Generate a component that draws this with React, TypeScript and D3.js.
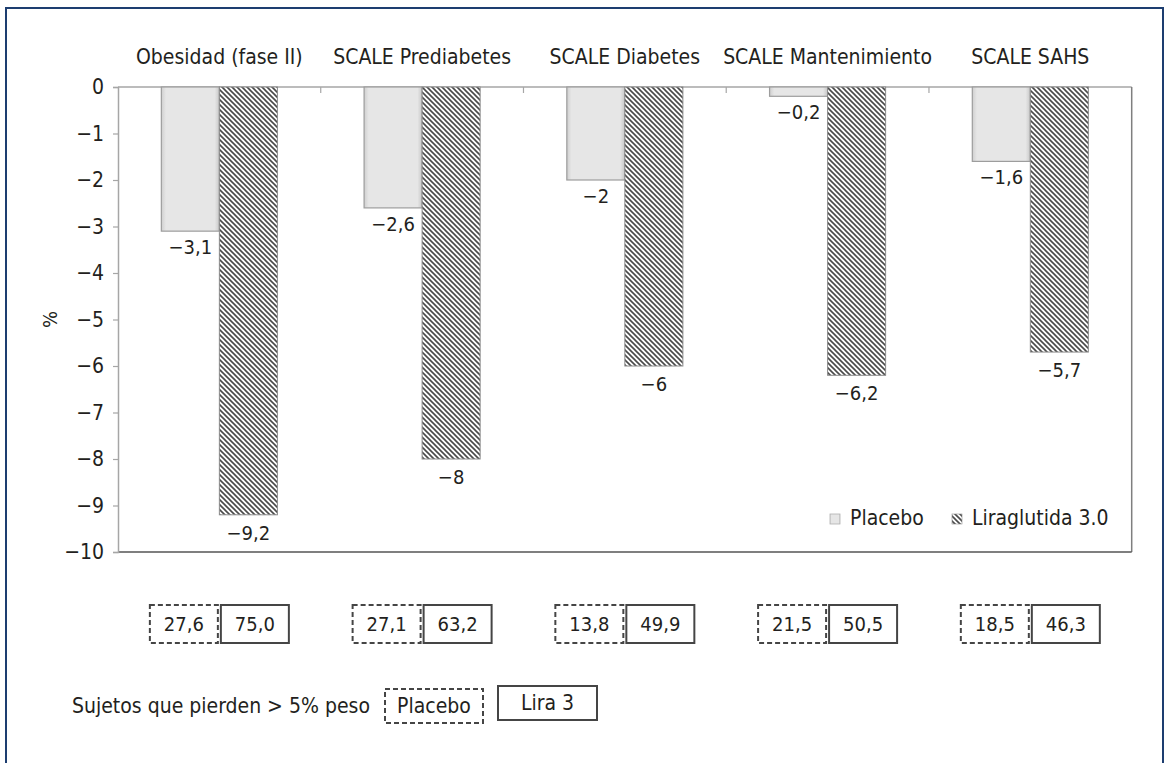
import { useEffect, useRef } from 'react';
import * as d3 from 'd3';

const categories = ['Obesidad (fase II)', 'SCALE Prediabetes', 'SCALE Diabetes', 'SCALE Mantenimiento', 'SCALE SAHS'];
const placebo = [-3.1, -2.6, -2, -0.2, -1.6];
const liraglutida = [-9.2, -8, -6, -6.2, -5.7];
const respPlacebo = ['27,6', '27,1', '13,8', '21,5', '18,5'];
const respLira = ['75,0', '63,2', '49,9', '50,5', '46,3'];
const yTicks = [0, -1, -2, -3, -4, -5, -6, -7, -8, -9, -10];

const FONT = '"Liberation Sans Narrow", "DejaVu Sans Condensed", "Open Sans", sans-serif';
const TXT = '#231f20';

const fmt = (v: number) => (v < 0 ? '\u2212' : '') + String(Math.abs(v)).replace('.', ',');

const App = () => {
  const svgRef = useRef<SVGSVGElement>(null);

  useEffect(() => {
    const svg = d3.select(svgRef.current);
    svg.selectAll('*').remove(); // start clean

    const width = 1170;
    const height = 763;
    const margin = { top: 87, right: 38.3, bottom: 211, left: 118 };

    const defs = svg.append('defs');
    const pat = defs.append('pattern')
      .attr('id', 'hatch')
      .attr('patternUnits', 'userSpaceOnUse')
      .attr('width', 5)
      .attr('height', 5);
    pat.append('rect').attr('width', 5).attr('height', 5).attr('fill', '#fff');
    pat.append('path')
      .attr('d', 'M-1,-1 L6,6 M-1,4 L1,6 M4,-1 L6,1')
      .attr('stroke', '#4a4a4a')
      .attr('stroke-width', 1.6);

    const grad = defs.append('linearGradient').attr('id', 'bevel').attr('x1', 0).attr('x2', 1).attr('y1', 0).attr('y2', 0);
    grad.append('stop').attr('offset', '0').attr('stop-color', '#cfcfcf');
    grad.append('stop').attr('offset', '0.08').attr('stop-color', '#e6e6e6');
    grad.append('stop').attr('offset', '0.92').attr('stop-color', '#e6e6e6');
    grad.append('stop').attr('offset', '1').attr('stop-color', '#c8c8c8');

    // outer frame
    svg.append('rect')
      .attr('x', 6).attr('y', 8)
      .attr('width', 1157).attr('height', 800)
      .attr('fill', '#fff')
      .attr('stroke', '#1d3e70')
      .attr('stroke-width', 2);

    const x = d3.scaleBand<string>()
      .domain(categories)
      .range([margin.left, width - margin.right]);

    const inner = d3.scaleBand<string>()
      .domain(['placebo', 'lira'])
      .range([0, x.bandwidth()])
      .paddingInner(0)
      .paddingOuter(0.747);

    const y = d3.scaleLinear()
      .domain([0, -10])
      .range([margin.top, height - margin.bottom]);

    // plot frame lines
    svg.append('line')
      .attr('x1', margin.left).attr('x2', width - margin.right)
      .attr('y1', y(0)).attr('y2', y(0))
      .attr('stroke', '#a6a6a6').attr('stroke-width', 1.5);
    svg.append('line')
      .attr('x1', width - margin.right).attr('x2', width - margin.right)
      .attr('y1', y(0)).attr('y2', y(-10))
      .attr('stroke', '#7f7f7f').attr('stroke-width', 1.5);
    svg.append('line')
      .attr('x1', margin.left).attr('x2', width - margin.right)
      .attr('y1', y(-10)).attr('y2', y(-10))
      .attr('stroke', '#555').attr('stroke-width', 1.5);

    // category ticks along the zero line
    svg.append('g')
      .selectAll('line')
      .data(categories.slice(1))
      .join('line')
      .attr('x1', d => x(d)!).attr('x2', d => x(d)!)
      .attr('y1', y(0)).attr('y2', y(0) + 6)
      .attr('stroke', '#a6a6a6').attr('stroke-width', 1.2);

    // y axis
    const yAxis = svg.append('g')
      .attr('transform', `translate(${margin.left},0)`)
      .call(d3.axisLeft(y).tickValues(yTicks).tickSize(5).tickPadding(9)
        .tickFormat(d => fmt(d as number)));
    yAxis.select('.domain').attr('stroke', '#a6a6a6').attr('stroke-width', 1.5);
    yAxis.selectAll('.tick line').attr('stroke', '#a6a6a6').attr('stroke-width', 1.2);
    yAxis.selectAll('.tick text')
      .attr('fill', TXT)
      .style('font-family', FONT)
      .style('font-size', '21px');

    svg.append('text')
      .attr('transform', `translate(57,${y(-5)}) rotate(-90)`)
      .attr('text-anchor', 'middle')
      .attr('fill', TXT)
      .style('font-family', FONT)
      .style('font-size', '20px')
      .text('%');

    // category labels
    svg.append('g')
      .selectAll('text')
      .data(categories)
      .join('text')
      .attr('x', d => x(d)! + x.bandwidth() / 2)
      .attr('y', 64)
      .attr('text-anchor', 'middle')
      .attr('fill', TXT)
      .style('font-family', FONT)
      .style('font-size', '21px')
      .text(d => d);

    // placebo bars
    const gP = svg.append('g');
    categories.forEach((c, i) => {
      const bx = x(c)! + inner('placebo')!;
      const bw = inner.bandwidth();
      gP.append('rect')
        .attr('x', bx).attr('y', y(0))
        .attr('width', bw).attr('height', y(placebo[i]) - y(0))
        .attr('fill', 'url(#bevel)')
        .attr('stroke', '#9d9d9d').attr('stroke-width', 1.2);
      gP.append('text')
        .attr('x', bx + bw / 2)
        .attr('y', y(placebo[i]) + 23)
        .attr('text-anchor', 'middle')
        .attr('fill', TXT)
        .style('font-family', FONT)
        .style('font-size', '20px')
        .text(fmt(placebo[i]));
    });

    // liraglutida bars
    const gL = svg.append('g');
    categories.forEach((c, i) => {
      const bx = x(c)! + inner('lira')!;
      const bw = inner.bandwidth();
      gL.append('rect')
        .attr('x', bx).attr('y', y(0))
        .attr('width', bw).attr('height', y(liraglutida[i]) - y(0))
        .attr('fill', 'url(#hatch)')
        .attr('stroke', '#8a8a8a').attr('stroke-width', 1);
      gL.append('text')
        .attr('x', bx + bw / 2)
        .attr('y', y(liraglutida[i]) + 25)
        .attr('text-anchor', 'middle')
        .attr('fill', TXT)
        .style('font-family', FONT)
        .style('font-size', '20px')
        .text(fmt(liraglutida[i]));
    });

    // legend
    const legend = svg.append('g').attr('transform', `translate(830,${y(-10) - 28})`);
    legend.append('rect').attr('x', 0).attr('y', -10).attr('width', 10).attr('height', 10)
      .attr('fill', 'url(#bevel)').attr('stroke', '#b0b0b0').attr('stroke-width', 0.8);
    legend.append('text').attr('x', 20).attr('y', 1)
      .attr('fill', TXT).style('font-family', FONT).style('font-size', '21px').text('Placebo');
    legend.append('rect').attr('x', 122).attr('y', -10).attr('width', 10).attr('height', 10)
      .attr('fill', 'url(#hatch)').attr('stroke', '#8a8a8a').attr('stroke-width', 0.6);
    legend.append('text').attr('x', 142).attr('y', 1)
      .attr('fill', TXT).style('font-family', FONT).style('font-size', '21px').text('Liraglutida 3.0');

    // response boxes
    const boxY = 605;
    const boxH = 38;
    const boxW = 68;
    const gB = svg.append('g');
    categories.forEach((c, i) => {
      const cx = x(c)! + x.bandwidth() / 2;
      const items = [
        { v: respPlacebo[i], x0: cx - boxW - 1.5, dash: '5,3' },
        { v: respLira[i], x0: cx + 1.5, dash: null },
      ];
      items.forEach(it => {
        gB.append('rect')
          .attr('x', it.x0).attr('y', boxY)
          .attr('width', boxW).attr('height', boxH)
          .attr('fill', 'none')
          .attr('stroke', '#454545').attr('stroke-width', 2)
          .attr('stroke-dasharray', it.dash);
        gB.append('text')
          .attr('x', it.x0 + boxW / 2).attr('y', boxY + boxH / 2 + 7)
          .attr('text-anchor', 'middle')
          .attr('fill', TXT)
          .style('font-family', FONT)
          .style('font-size', '20px')
          .text(it.v);
      });
    });

    // bottom key
    svg.append('text')
      .attr('x', 72).attr('y', 713)
      .attr('fill', TXT).style('font-family', FONT).style('font-size', '21px')
      .text('Sujetos que pierden > 5% peso');
    svg.append('rect')
      .attr('x', 385).attr('y', 689).attr('width', 98).attr('height', 34)
      .attr('fill', 'none').attr('stroke', '#454545').attr('stroke-width', 2)
      .attr('stroke-dasharray', '5,3');
    svg.append('text')
      .attr('x', 434).attr('y', 713).attr('text-anchor', 'middle')
      .attr('fill', TXT).style('font-family', FONT).style('font-size', '21px')
      .text('Placebo');
    svg.append('rect')
      .attr('x', 498).attr('y', 686).attr('width', 99).attr('height', 34)
      .attr('fill', 'none').attr('stroke', '#454545').attr('stroke-width', 2);
    svg.append('text')
      .attr('x', 547.5).attr('y', 710).attr('text-anchor', 'middle')
      .attr('fill', TXT).style('font-family', FONT).style('font-size', '21px')
      .text('Lira 3');
  }, []);

  return (
    <svg ref={svgRef} width={1170} height={763}
      style={{ position: 'absolute', left: 0, top: 0, background: '#fff' }} />
  );
};

export default App;
